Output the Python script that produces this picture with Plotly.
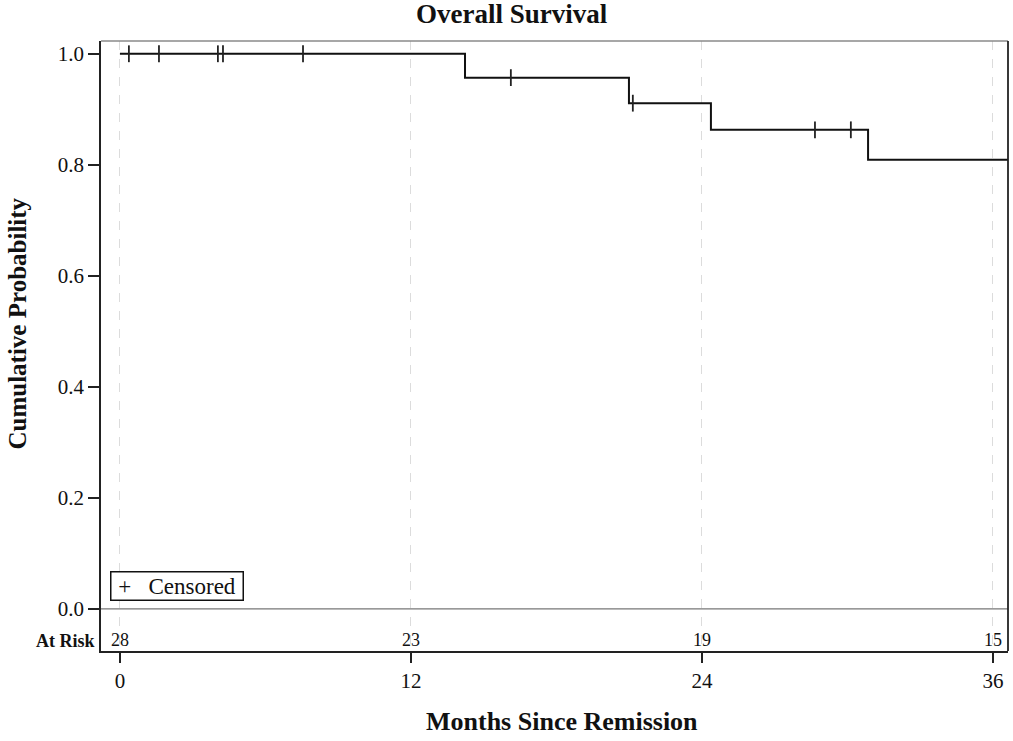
import plotly.graph_objects as go

# Kaplan-Meier step data (months, survival)
step_times = [0, 14.23, 20.99, 24.37, 30.85, 36.62]
step_surv = [1.0, 0.957, 0.911, 0.863, 0.809, 0.809]

# Censored observations
cens_times = [0.37, 1.61, 4.04, 4.25, 7.55, 16.12, 21.15, 28.66, 30.14]
cens_surv = [1.0, 1.0, 1.0, 1.0, 1.0, 0.957, 0.911, 0.863, 0.863]

# At-risk table
risk_times = [0, 12, 24, 36]
risk_counts = [28, 23, 19, 15]
risk_row_y = [-0.058] * len(risk_times)

x_ticks = [0, 12, 24, 36]
y_ticks = [0.0, 0.2, 0.4, 0.6, 0.8, 1.0]
y_tick_labels = ["0.0", "0.2", "0.4", "0.6", "0.8", "1.0"]

FONT = "Liberation Serif"
INK = "#111111"

fig = go.Figure()

fig.add_trace(go.Scatter(
    x=step_times, y=step_surv, mode="lines", line_shape="hv",
    line=dict(color=INK, width=2), showlegend=False, hoverinfo="skip"))

fig.add_trace(go.Scatter(
    x=cens_times, y=cens_surv, mode="markers", name="Censored",
    marker=dict(symbol="line-ns", size=12, line=dict(color="#222222", width=1.8)),
    showlegend=False))

fig.add_trace(go.Scatter(
    x=risk_times, y=risk_row_y, mode="text",
    text=[str(v) for v in risk_counts], textposition="middle center",
    textfont=dict(family=FONT, size=18, color=INK),
    showlegend=False, hoverinfo="skip"))

# zero reference line
fig.add_shape(type="line", xref="paper", yref="y", x0=0, x1=1, y0=0, y1=0,
              line=dict(color="#777777", width=1.2))
# top/right frame
fig.add_shape(type="line", xref="paper", yref="paper", x0=0, x1=1, y0=1, y1=1,
              line=dict(color="#8a8a8a", width=1.5))
fig.add_shape(type="line", xref="paper", yref="paper", x0=1, x1=1, y0=0, y1=1,
              line=dict(color="#222222", width=1.8))

# legend box
fig.add_annotation(text="&nbsp;+&nbsp;&nbsp;&nbsp;Censored&nbsp;", xref="paper", yref="paper",
                   x=0.0099, y=0.082, xanchor="left", yanchor="bottom",
                   showarrow=False, bordercolor=INK, borderwidth=1.5, borderpad=1,
                   bgcolor="white", font=dict(family=FONT, size=23, color=INK))

fig.add_annotation(text="<b>At Risk</b>", xref="paper", yref="y", x=-0.004, y=-0.058,
                   xanchor="right", yanchor="middle", showarrow=False,
                   font=dict(family=FONT, size=18, color=INK))

fig.add_annotation(text="<b>Cumulative Probability</b>", xref="paper", yref="y",
                   x=-0.0915, y=0.514, textangle=-90, xanchor="center", yanchor="middle",
                   showarrow=False, font=dict(family=FONT, size=25, color=INK))

fig.add_annotation(text="<b>Months Since Remission</b>", xref="paper", yref="paper",
                   x=0.508, y=-0.116, xanchor="center", yanchor="middle",
                   showarrow=False, font=dict(family=FONT, size=26, color=INK))

fig.update_layout(
    width=1013, height=741,
    margin=dict(l=101, r=5, t=41, b=90),
    paper_bgcolor="white", plot_bgcolor="white",
    showlegend=False,
    title=dict(text="<b>Overall Survival</b>", x=0.505, xanchor="center",
               y=1 - 14 / 741, yanchor="middle",
               font=dict(family=FONT, size=27, color=INK)),
    font=dict(family=FONT, size=21, color=INK),
    xaxis=dict(range=[-0.78, 36.62], tickvals=x_ticks, ticks="outside", ticklen=10,
               tickwidth=1.8, tickcolor="#222222",
               showgrid=True, gridcolor="#dcdcdc", griddash="dash", gridwidth=1,
               showline=True, linecolor="#222222", linewidth=1.8, zeroline=False,
               tickfont=dict(family=FONT, size=21)),
    yaxis=dict(range=[-0.076, 1.023], tickvals=y_ticks, ticktext=y_tick_labels,
               ticks="outside", ticklen=11, tickwidth=1.8, tickcolor="#222222",
               showgrid=False, showline=True, linecolor="#222222", linewidth=1.8,
               zeroline=False, tickfont=dict(family=FONT, size=21)),
)

fig.write_html("out.html", config={"displayModeBar": False},
               post_script="document.body.style.margin='0';document.body.style.overflow='hidden';")
